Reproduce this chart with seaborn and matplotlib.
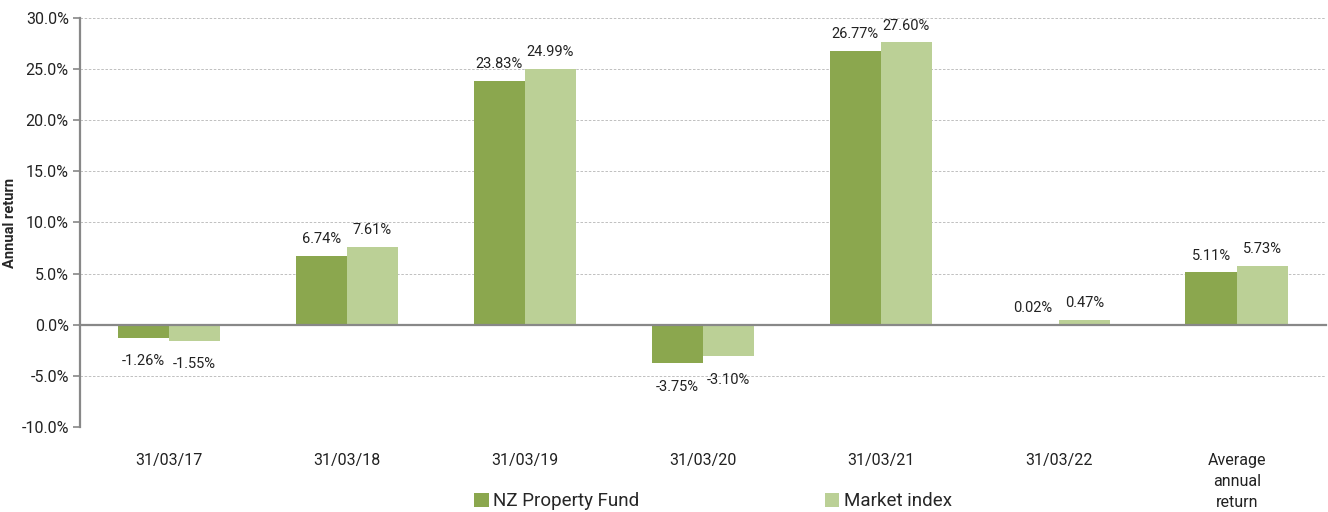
import matplotlib.pyplot as plt
import matplotlib.ticker as mticker
import seaborn as sns
import pandas as pd

# Data
periods = ['31/03/17', '31/03/18', '31/03/19', '31/03/20', '31/03/21', '31/03/22',
           'Average\nannual\nreturn']
fund = [-1.26, 6.74, 23.83, -3.75, 26.77, 0.02, 5.11]
market = [-1.55, 7.61, 24.99, -3.10, 27.60, 0.47, 5.73]
series = ['NZ Property Fund', 'Market index']
yticks = [-10, -5, 0, 5, 10, 15, 20, 25, 30]

plot_df = pd.DataFrame({
    'period': periods * 2,
    'series': [series[0]] * len(periods) + [series[1]] * len(periods),
    'ret': fund + market,
})

sns.set_style('white')
plt.rcParams['font.family'] = ['Roboto', 'DejaVu Sans']
palette = {series[0]: '#8BA74E', series[1]: '#BBD096'}

fig = plt.figure(figsize=(13.28, 5.12), dpi=100)
ax = fig.add_axes([0.0602, 0.166, 0.938, 0.799])

sns.barplot(data=plot_df, x='period', y='ret', hue='series', order=periods,
            hue_order=series, palette=palette, width=0.575, gap=0,
            linewidth=0, saturation=1, ax=ax, legend=True)

# value labels: positives above, negatives a little further below
for cont in ax.containers:
    vals = cont.datavalues
    ax.bar_label(cont, labels=[f'{v:.2f}%' if v >= 0 else '' for v in vals],
                 padding=7, fontsize=10.5, color='#222222')
    ax.bar_label(cont, labels=[f'{v:.2f}%' if v < 0 else '' for v in vals],
                 padding=12, fontsize=10.5, color='#222222')

ax.set_ylim(-10, 30)
ax.set_yticks(yticks)
ax.yaxis.set_major_formatter(mticker.FuncFormatter(lambda v, p: f'{v:.1f}%'))
ax.tick_params(axis='y', labelsize=11.5, length=5, width=1.2, color='#888888',
               direction='out', left=True, labelcolor='#222222', pad=3)
ax.grid(axis='y', linestyle=(0, (3, 2)), linewidth=0.6, color='#b5b5b5')
ax.set_axisbelow(True)
ax.set_xlim(-0.5, len(periods) - 0.5)

for side in ['top', 'right']:
    ax.spines[side].set_visible(False)
ax.spines['left'].set_color('#888888')
ax.spines['left'].set_linewidth(1.6)
ax.spines['bottom'].set_position(('data', 0))
ax.spines['bottom'].set_color('#888888')
ax.spines['bottom'].set_linewidth(1.6)

# category boundary ticks on the zero line
ax.set_xticks([i - 0.5 for i in range(len(periods) + 1)], minor=True)
ax.tick_params(axis='x', which='minor', length=6, width=1.6, color='#888888',
               direction='out')
ax.tick_params(axis='x', which='major', length=0, labelbottom=False)
ax.set_xlabel('')
ax.set_ylabel('Annual return', fontsize=10.5, fontweight='bold', labelpad=3)

sec = ax.secondary_xaxis(0)
sec.set_xticks(range(len(periods)))
sec.set_xticklabels(periods, fontsize=11.5, color='#222222', linespacing=1.5, va='top')
sec.tick_params(length=0, pad=19)
sec.spines['bottom'].set_visible(False)

handles, labels = ax.get_legend_handles_labels()
ax.get_legend().remove()
fig.legend(handles, labels, loc='lower center', bbox_to_anchor=(0.537, -0.03),
           ncol=2, frameon=False, fontsize=13.5, columnspacing=9.9,
           handlelength=0.75, handleheight=0.75, handletextpad=0.25)

fig.savefig('out.png', dpi=100)
